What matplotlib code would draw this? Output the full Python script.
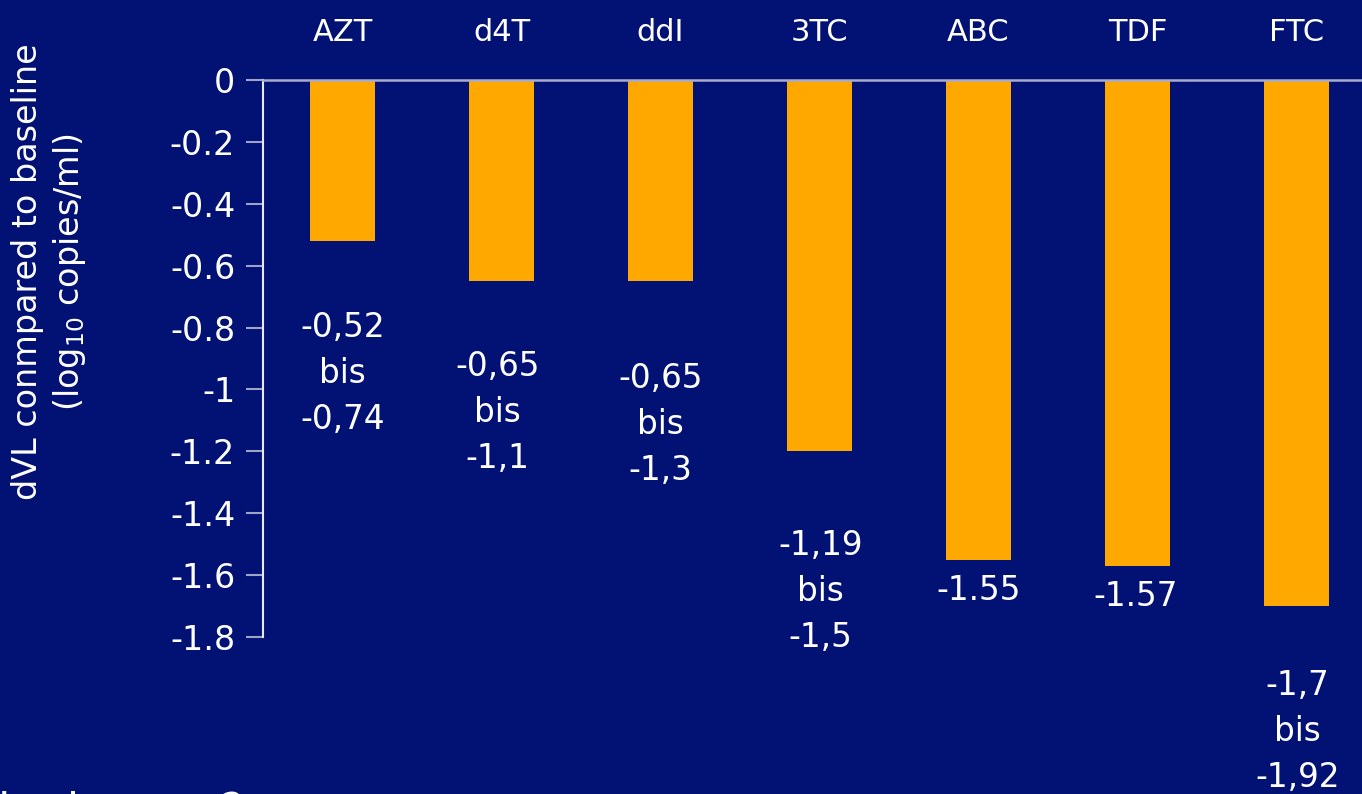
import matplotlib
matplotlib.use("Agg")
import matplotlib.pyplot as plt

# Drugs and mean viral-load change from baseline (log10 copies/ml)
drugs = ["AZT", "d4T", "ddI", "3TC", "ABC", "TDF", "FTC"]
decline = [-0.52, -0.65, -0.65, -1.2, -1.55, -1.57, -1.7]
range_labels = [
    "-0,52\nbis\n-0,74",
    "-0,65\nbis\n-1,1",
    "-0,65\nbis\n-1,3",
    "-1,19\nbis\n-1,5",
    "-1.55",
    "-1.57",
    "-1,7\nbis\n-1,92",
]
yticks = [0, -0.2, -0.4, -0.6, -0.8, -1, -1.2, -1.4, -1.6, -1.8]
ytick_labels = ["0", "-0.2", "-0.4", "-0.6", "-0.8", "-1", "-1.2", "-1.4", "-1.6", "-1.8"]

# label placement below each bar end (pixels) and horizontal nudge
label_drop = [133, 131, 143, 140, 31, 31, 125]
label_shift = [0, -4, 0, 1, 0, -2, 1]

BG = "#021174"
BAR = "#FFA800"
FG = "white"

plt.rcParams["font.family"] = ["DejaVu Sans"]

fig = plt.figure(figsize=(13.62, 7.94), dpi=100, facecolor=BG)
ax = fig.add_axes([263 / 1362, 1 - 637 / 794, 1113 / 1362, 557 / 794], facecolor=BG)

x = list(range(len(drugs)))
ax.bar(x, decline, width=0.415, color=BAR, zorder=2)

ax.set_xlim(-0.5, len(drugs) - 0.5)
ax.set_ylim(-1.8, 0)
ax.set_yticks(yticks)
ax.set_yticklabels(ytick_labels)

# category names along the top
ax.xaxis.set_ticks_position("top")
ax.set_xticks(x)
ax.set_xticklabels(drugs)
ax.tick_params(axis="x", length=0, pad=24, labelsize=22, labelcolor=FG)
ax.tick_params(axis="y", length=12, width=1.5, color="#9EA3C8", pad=8,
               labelsize=24, labelcolor=FG, direction="out")

for side in ("right", "bottom"):
    ax.spines[side].set_visible(False)
ax.spines["left"].set_color("#E8E8F0")
ax.spines["left"].set_linewidth(1.5)
ax.spines["top"].set_color("#A8ABCB")
ax.spines["top"].set_linewidth(1.8)
ax.spines["top"].set_zorder(3)

for xi, val, txt, drop, dx in zip(x, decline, range_labels, label_drop, label_shift):
    ax.annotate(txt, xy=(xi, val), xytext=(dx, -drop), textcoords="offset pixels",
                ha="center", va="center", color=FG, fontsize=23.5,
                linespacing=1.5, annotation_clip=False)

# axis title
fig.text(50 / 1362, 1 - 272 / 794,
         "dVL conmpared to baseline\n(log$_{10}$ copies/ml)",
         rotation=90, ha="center", va="center", color=FG, fontsize=24,
         linespacing=1.25, multialignment="center")

# footer text running off the lower edge
fig.text(-2 / 1362, -40 / 794, "inging      ?", ha="left", va="bottom",
         color=FG, fontsize=32)

fig.savefig("out.png", dpi=100, facecolor=BG)
